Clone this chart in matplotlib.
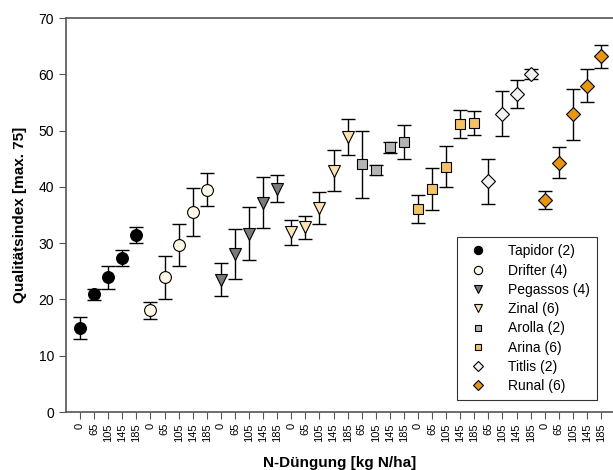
import numpy as np
import matplotlib
matplotlib.use("Agg")
import matplotlib.pyplot as plt

plt.rcParams['font.family'] = ['Liberation Sans', 'DejaVu Sans']

# Sorten, N-Stufen, Mittelwerte und Streuung
sorten = ['Tapidor (2)', 'Drifter (4)', 'Pegassos (4)', 'Zinal (6)',
          'Arolla (2)', 'Arina (6)', 'Titlis (2)', 'Runal (6)']
n_stufen = [[0, 65, 105, 145, 185],
            [0, 65, 105, 145, 185],
            [0, 65, 105, 145, 185],
            [0, 65, 105, 145, 185],
            [65, 105, 145, 185],
            [0, 65, 105, 145, 185],
            [65, 105, 145, 185],
            [0, 65, 105, 145, 185]]
mittel = [[14.9, 20.9, 23.9, 27.4, 31.4],
          [18.1, 23.9, 29.7, 35.5, 39.5],
          [23.5, 28.1, 31.7, 37.2, 39.7],
          [31.9, 32.8, 36.2, 42.9, 48.9],
          [44.0, 43.0, 47.0, 48.0],
          [36.0, 39.6, 43.6, 51.2, 51.3],
          [41.0, 53.0, 56.5, 60.0],
          [37.7, 44.3, 52.9, 58.0, 63.2]]
fehler = [[2.0, 1.0, 2.0, 1.4, 1.4],
          [1.5, 3.8, 3.7, 4.3, 2.9],
          [2.9, 4.4, 4.7, 4.5, 2.4],
          [2.2, 2.1, 2.8, 3.6, 3.2],
          [6.0, 0.9, 1.0, 3.0],
          [2.5, 3.7, 3.6, 2.5, 2.1],
          [4.0, 4.0, 2.5, 0.9],
          [1.6, 2.7, 4.5, 2.9, 2.0]]

marker = ['o', 'o', 'v', 'v', 's', 's', 'D', 'D']
farben = ['#000000', '#fff8e6', '#7a7a7a', '#fde3ae',
          '#b4b4b4', '#f5c362', '#f2f2f2', '#e8960c']
groesse = [8.5, 8.5, 8.5, 8.5, 7, 7, 7.5, 7.5]

fig = plt.figure(figsize=(6.13, 4.70), dpi=100)
ax = fig.add_axes([66 / 613, 1 - 412 / 470, 1 - 66 / 613, (412 - 18) / 470])

pos = 0
tick_pos = []
tick_lab = []
for i in range(len(sorten)):
    x = np.arange(pos, pos + len(n_stufen[i]))
    ax.errorbar(x, mittel[i], yerr=fehler[i], fmt='none', ecolor='black',
                elinewidth=1.0, capsize=5, capthick=1.0, zorder=2)
    ax.plot(x, mittel[i], linestyle='none', marker=marker[i], markersize=groesse[i],
            markerfacecolor=farben[i], markeredgecolor='black', markeredgewidth=0.8,
            label=sorten[i], zorder=3)
    tick_pos += list(x)
    tick_lab += [str(n) for n in n_stufen[i]]
    pos += len(n_stufen[i])

ax.set_xlim(-1, 37.85)
ax.set_ylim(0, 70)
ax.set_yticks(np.arange(0, 71, 10))
ax.set_xticks(tick_pos)
ax.set_xticklabels(tick_lab, rotation=90, fontsize=8)
ax.tick_params(axis='y', labelsize=10, direction='out', length=5, color='#555555')
ax.tick_params(axis='x', direction='out', length=5, color='#555555', pad=3)
for s in ['left', 'top', 'bottom']:
    ax.spines[s].set_color('#555555')
    ax.spines[s].set_linewidth(1.2)
ax.spines['right'].set_visible(False)

ax.set_ylabel('Qualitätsindex [max. 75]', fontsize=11, fontweight='bold', labelpad=8)
ax.set_xlabel('N-Düngung [kg N/ha]', fontsize=11, fontweight='bold', labelpad=10)

leg = ax.legend(loc='lower right', bbox_to_anchor=(0.971, 0.03), fontsize=10,
                frameon=True, fancybox=False, edgecolor='black', markerscale=0.7,
                handletextpad=1.2, labelspacing=0.38, borderpad=0.5,
                borderaxespad=0)
leg.get_frame().set_linewidth(0.8)

fig.savefig('out.png', dpi=100)
